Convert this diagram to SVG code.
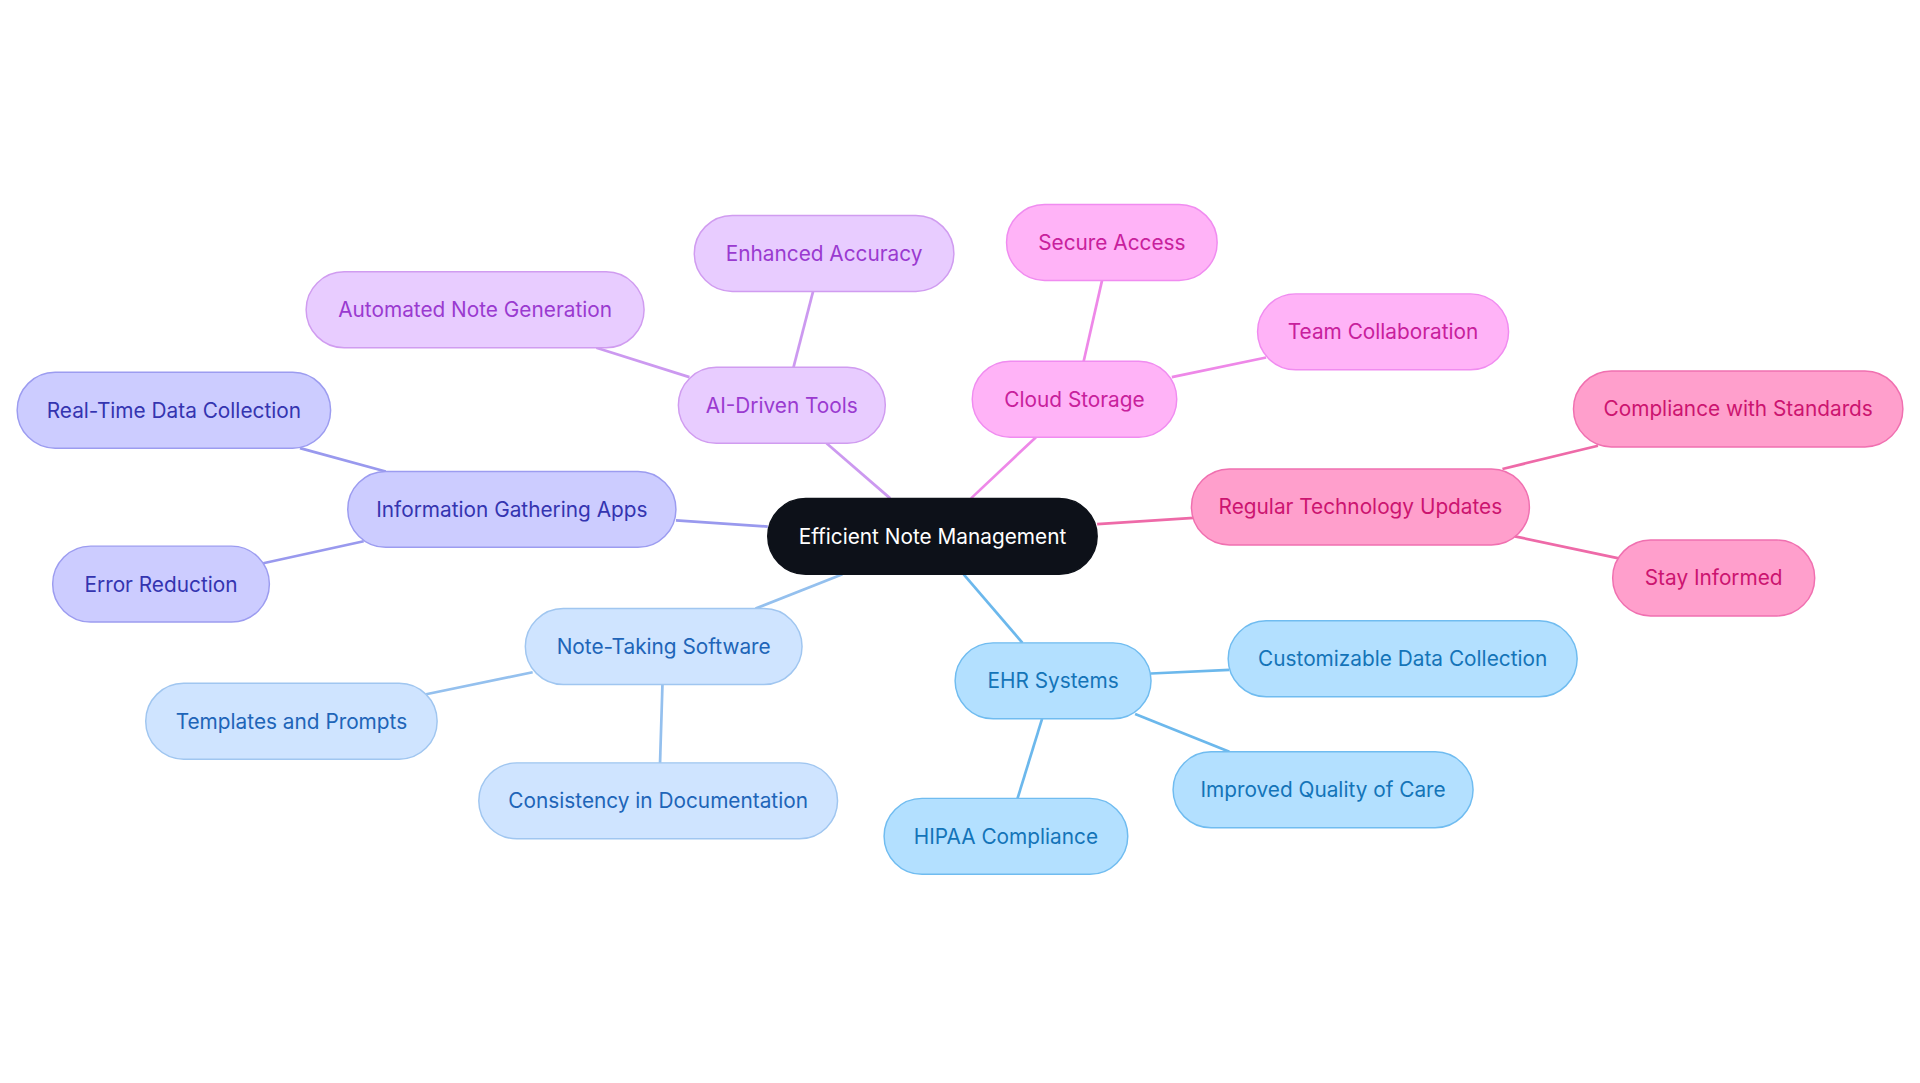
<svg xmlns="http://www.w3.org/2000/svg" width="1920" height="1083" viewBox="0 0 1920 1083">
<style>
text{font-family:Inter,"Noto Sans","Liberation Sans",sans-serif;font-size:17px;text-anchor:middle;dominant-baseline:central}
rect{stroke-width:1.2}
line{stroke-width:2.2}
.p rect{fill:#ccccff;stroke:#9c9cf0}.p text{fill:#3434b0}
.a rect{fill:#e8ccff;stroke:#d09cf0}.a text{fill:#9a3ad0}
.c rect{fill:#ffb3f7;stroke:#f08cf0}.c text{fill:#c8209c}
.r rect{fill:#ff9fcc;stroke:#f070b0}.r text{fill:#cc1470}
.e rect{fill:#b3e0ff;stroke:#70bcf0}.e text{fill:#1474b8}
.n rect{fill:#cfe4ff;stroke:#a0c6f0}.n text{fill:#2064b8}
</style>
<rect width="1920" height="1083" fill="#fff"/>
<g transform="scale(1.2245)">
<g id="connectors">
<g stroke="#9999ee"><line x1="552" y1="425" x2="627" y2="430"/><line x1="315" y1="385" x2="245" y2="366"/><line x1="297" y1="442" x2="215" y2="460"/></g>
<g stroke="#cc99f0"><line x1="727" y1="407" x2="675" y2="362"/><line x1="563" y1="308" x2="487" y2="284"/><line x1="648" y1="300" x2="664" y2="238"/></g>
<g stroke="#ee88e8"><line x1="793" y1="407" x2="846" y2="357"/><line x1="885" y1="295" x2="900" y2="229"/><line x1="957" y1="308" x2="1034" y2="292"/></g>
<g stroke="#ee6aa8"><line x1="896" y1="428" x2="975" y2="423"/><line x1="1227" y1="383" x2="1305" y2="364"/><line x1="1237" y1="438" x2="1322" y2="456"/></g>
<g stroke="#6cb8ec"><line x1="787" y1="469" x2="835" y2="525"/><line x1="940" y1="550" x2="1004" y2="547"/><line x1="927" y1="583" x2="1004" y2="614"/><line x1="851" y1="587" x2="831" y2="652"/></g>
<g stroke="#94c0ee"><line x1="688" y1="469" x2="617" y2="497"/><line x1="435" y1="549" x2="348" y2="567"/><line x1="541" y1="559" x2="539" y2="624"/></g>
</g>
<g id="root"><rect x="627" y="407" width="269" height="62" rx="31" fill="#0d1119" stroke="#0d1119"/><text x="761.5" y="438" fill="#fff">Efficient Note Management</text></g>
<g id="info" class="p"><rect x="284" y="385" width="268" height="62" rx="31"/><text x="418" y="416">Information Gathering Apps</text></g>
<g id="realtime" class="p"><rect x="14" y="304" width="256" height="62" rx="31"/><text x="142" y="335">Real-Time Data Collection</text></g>
<g id="error" class="p"><rect x="43" y="446" width="177" height="62" rx="31"/><text x="131.5" y="477">Error Reduction</text></g>
<g id="ai" class="a"><rect x="554" y="300" width="169" height="62" rx="31"/><text x="638.5" y="331">AI-Driven Tools</text></g>
<g id="auto" class="a"><rect x="250" y="222" width="276" height="62" rx="31"/><text x="388" y="253">Automated Note Generation</text></g>
<g id="enh" class="a"><rect x="567" y="176" width="212" height="62" rx="31"/><text x="673" y="207">Enhanced Accuracy</text></g>
<g id="cloud" class="c"><rect x="794" y="295" width="167" height="62" rx="31"/><text x="877.5" y="326">Cloud Storage</text></g>
<g id="secure" class="c"><rect x="822" y="167" width="172" height="62" rx="31"/><text x="908" y="198">Secure Access</text></g>
<g id="team" class="c"><rect x="1027" y="240" width="205" height="62" rx="31"/><text x="1129.5" y="271">Team Collaboration</text></g>
<g id="reg" class="r"><rect x="973" y="383" width="276" height="62" rx="31"/><text x="1111" y="414">Regular Technology Updates</text></g>
<g id="comp" class="r"><rect x="1285" y="303" width="269" height="62" rx="31"/><text x="1419.5" y="334">Compliance with Standards</text></g>
<g id="stay" class="r"><rect x="1317" y="441" width="165" height="62" rx="31"/><text x="1399.5" y="472">Stay Informed</text></g>
<g id="ehr" class="e"><rect x="780" y="525" width="160" height="62" rx="31"/><text x="860" y="556">EHR Systems</text></g>
<g id="cust" class="e"><rect x="1003" y="507" width="285" height="62" rx="31"/><text x="1145.5" y="538">Customizable Data Collection</text></g>
<g id="impr" class="e"><rect x="958" y="614" width="245" height="62" rx="31"/><text x="1080.5" y="645">Improved Quality of Care</text></g>
<g id="hipaa" class="e"><rect x="722" y="652" width="199" height="62" rx="31"/><text x="821.5" y="683">HIPAA Compliance</text></g>
<g id="note" class="n"><rect x="429" y="497" width="226" height="62" rx="31"/><text x="542" y="528">Note-Taking Software</text></g>
<g id="tmpl" class="n"><rect x="119" y="558" width="238" height="62" rx="31"/><text x="238" y="589">Templates and Prompts</text></g>
<g id="cons" class="n"><rect x="391" y="623" width="293" height="62" rx="31"/><text x="537.5" y="654">Consistency in Documentation</text></g>
</g>
</svg>
